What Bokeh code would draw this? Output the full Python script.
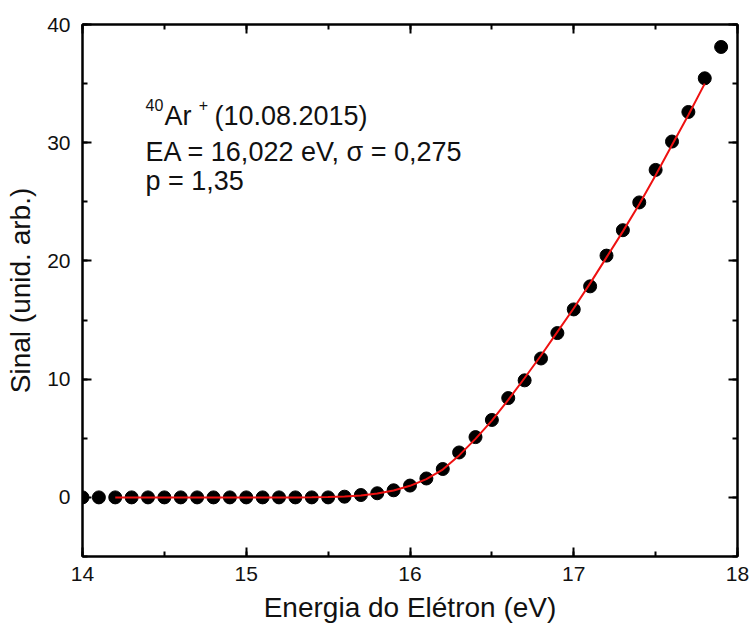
from bokeh.plotting import figure
from bokeh.models import Label, LinearAxis, SingleIntervalTicker, Range1d
from bokeh.embed import file_html
from bokeh.resources import INLINE

# measured data (Energia do Elétron, eV ; Sinal, unid. arb.)
energy = [14.0, 14.1, 14.2, 14.3, 14.4, 14.5, 14.6, 14.7, 14.8, 14.9,
          15.0, 15.1, 15.2, 15.3, 15.4, 15.5, 15.6, 15.7, 15.8, 15.9,
          16.0, 16.1, 16.2, 16.3, 16.4, 16.5, 16.6, 16.7, 16.8, 16.9,
          17.0, 17.1, 17.2, 17.3, 17.4, 17.5, 17.6, 17.7, 17.8, 17.9]
signal = [0.0, 0.0, 0.0, 0.0, 0.0, 0.0, 0.0, 0.0, 0.0, 0.0,
          0.0, 0.0, 0.0, 0.0, 0.0, 0.0, 0.06, 0.2, 0.35, 0.6,
          1.0, 1.6, 2.4, 3.8, 5.1, 6.55, 8.4, 9.9, 11.75, 13.9,
          15.9, 17.85, 20.45, 22.6, 24.95, 27.7, 30.1, 32.6, 35.45, 38.1]

# fitted curve
fit_energy = [14.2, 14.4, 14.6, 14.8, 15.0, 15.2, 15.3, 15.4, 15.5, 15.6,
              15.7, 15.8, 15.9, 16.0, 16.1, 16.2, 16.3, 16.4, 16.5, 16.6,
              16.7, 16.8, 16.9, 17.0, 17.1, 17.2, 17.3, 17.4, 17.5, 17.6,
              17.7, 17.8]
fit_signal = [0.0, 0.0, 0.0, 0.0, 0.0, 0.0, 0.0, 0.01, 0.03, 0.07,
              0.16, 0.32, 0.58, 0.98, 1.55, 2.35, 3.55, 4.95, 6.5, 8.25,
              10.1, 12.0, 14.0, 16.0, 18.1, 20.3, 22.5, 24.8, 27.25, 29.8,
              32.35, 35.0]

x_ticks_major = 1
y_ticks_major = 10

FONT = "Liberation Sans"
TXT = "#111111"

p = figure(width=751, height=634, output_backend="svg", toolbar_location=None,
           x_range=Range1d(14, 18), y_range=Range1d(-5, 40),
           min_border_left=82, min_border_right=14, min_border_top=24,
           min_border_bottom=78, background_fill_color="white",
           border_fill_color="white", x_axis_type=None, y_axis_type=None)
p.grid.visible = False
p.outline_line_color = "black"
p.outline_line_width = 2


def style_axis(ax, show_labels):
    ax.axis_line_color = "black"
    ax.axis_line_width = 2
    ax.major_tick_line_color = "black"
    ax.major_tick_line_width = 2
    ax.minor_tick_line_color = "black"
    ax.minor_tick_line_width = 2
    ax.major_tick_in = 9
    ax.major_tick_out = 0
    ax.minor_tick_in = 5
    ax.minor_tick_out = 0
    if show_labels:
        ax.major_label_text_font = FONT
        ax.major_label_text_font_size = "21px"
        ax.major_label_text_color = TXT
        ax.axis_label_text_font = FONT
        ax.axis_label_text_font_size = "28px"
        ax.axis_label_text_font_style = "normal"
        ax.axis_label_text_color = TXT
    else:
        ax.major_label_text_font_size = "1px"
        ax.major_label_text_color = None
        ax.major_label_standoff = 0


xb = LinearAxis(ticker=SingleIntervalTicker(interval=x_ticks_major, num_minor_ticks=2),
                axis_label="Energia do Elétron (eV)")
style_axis(xb, True)
xb.major_label_standoff = 10
xb.axis_label_standoff = 8
p.add_layout(xb, "below")

yl = LinearAxis(ticker=SingleIntervalTicker(interval=y_ticks_major, num_minor_ticks=2),
                axis_label="Sinal (unid. arb.)")
style_axis(yl, True)
yl.major_label_standoff = 12
yl.axis_label_standoff = 8
p.add_layout(yl, "left")

xt = LinearAxis(ticker=SingleIntervalTicker(interval=x_ticks_major, num_minor_ticks=2))
style_axis(xt, False)
p.add_layout(xt, "above")

yr = LinearAxis(ticker=SingleIntervalTicker(interval=y_ticks_major, num_minor_ticks=2))
style_axis(yr, False)
p.add_layout(yr, "right")

p.scatter(energy, signal, size=13, marker="circle", fill_color="black",
          line_color="black")
p.line(fit_energy, fit_signal, line_color="#ee1111", line_width=2)

# annotation text
def lab(x, y, text, size):
    p.add_layout(Label(x=x, y=y, text=text, text_font=FONT,
                       text_font_size=size, text_color=TXT,
                       text_baseline="alphabetic", text_align="left"))

lab(14.385, 33.15, "40", "16px")
lab(14.5, 32.22, "Ar", "27px")
lab(14.71, 33.2, "+", "16px")
lab(14.806, 32.22, "(10.08.2015)", "27px")
lab(14.385, 29.18, "EA = 16,022 eV, σ = 0,275", "27px")
lab(14.385, 26.72, "p = 1,35", "27px")

open("out.html", "w").write(file_html(p, INLINE))
